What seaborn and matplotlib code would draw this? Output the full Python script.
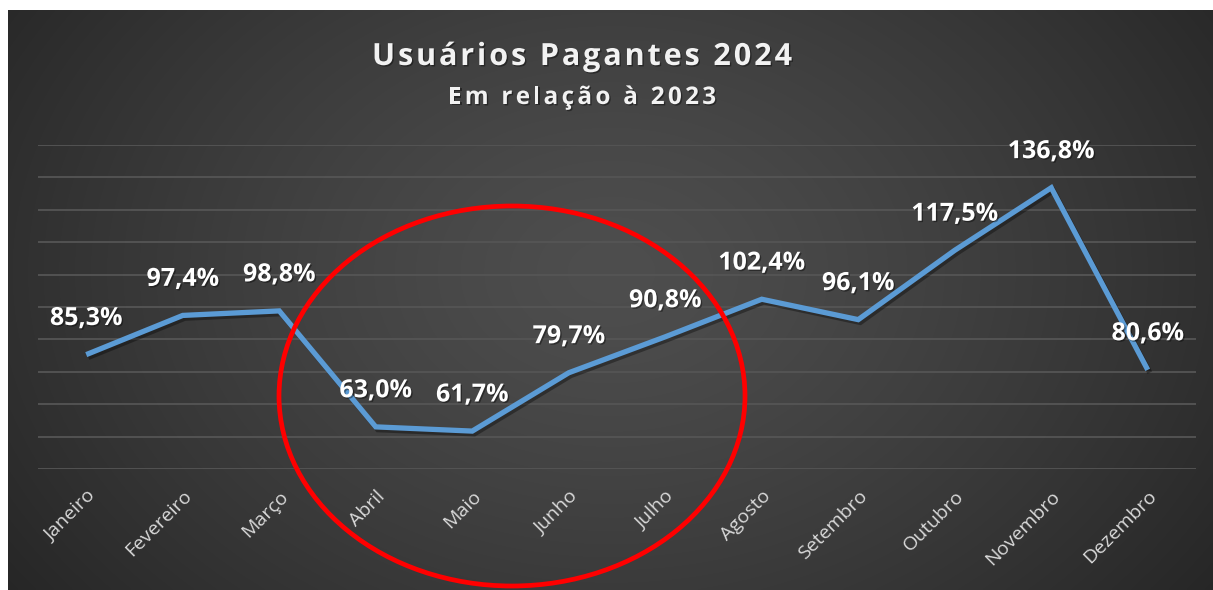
import numpy as np
import pandas as pd
import matplotlib
matplotlib.use("Agg")
import matplotlib.pyplot as plt
import matplotlib.patheffects as pe
from matplotlib.patches import Ellipse
from matplotlib.font_manager import FontProperties
import seaborn as sns

months = ["Janeiro", "Fevereiro", "Março", "Abril", "Maio", "Junho", "Julho",
          "Agosto", "Setembro", "Outubro", "Novembro", "Dezembro"]
values = [85.3, 97.4, 98.8, 63.0, 61.7, 79.7, 90.8, 102.4, 96.1, 117.5, 136.8, 80.6]
labels = ["85,3%", "97,4%", "98,8%", "63,0%", "61,7%", "79,7%", "90,8%",
          "102,4%", "96,1%", "117,5%", "136,8%", "80,6%"]
title = "Usuários Pagantes 2024"
subtitle = "Em relação à 2023"

sns.set_theme(style="white")
plt.rcParams["font.family"] = ["Open Sans", "DejaVu Sans"]

W, H = 1213, 590
fig = plt.figure(figsize=(W / 100, H / 100), dpi=100, facecolor="white")

# background panel with radial gradient
bg = fig.add_axes([8 / W, 0, 1 - 8 / W, 1 - 10 / H])
bg.set_axis_off()
ny, nx = 300, 600
yy, xx = np.mgrid[0:ny, 0:nx]
cx, cy = nx * 0.5, ny * 0.45
r = np.sqrt(((xx - cx) / (nx * 0.62)) ** 2 + ((yy - cy) / (ny * 0.95)) ** 2)
r = np.clip(r, 0, 1)
inner, outer = 0x4e / 255, 0x26 / 255
grad = inner + (outer - inner) * r ** 1.3
bg.imshow(np.dstack([grad, grad, grad]), aspect="auto", extent=[0, 1, 0, 1],
          interpolation="bicubic")
bg.set_xlim(0, 1)
bg.set_ylim(0, 1)

ax = fig.add_axes([38 / W, 1 - 469 / H, 1158 / W, 324 / H])
ax.patch.set_alpha(0)

df = pd.DataFrame({"mes": months, "valor": values})
shadow = [pe.SimpleLineShadow(offset=(1.5, -2), shadow_color="black", alpha=0.35), pe.Normal()]
sns.lineplot(data=df, x="mes", y="valor", ax=ax, color="#5b9bd5", linewidth=3.8,
             sort=False, solid_joinstyle="miter", solid_capstyle="butt",
             path_effects=shadow)

ax.set_xlim(-0.5, len(months) - 0.5)
ax.set_ylim(50, 150)
ax.set_yticks(np.arange(50, 151, 10))
ax.yaxis.grid(True, color="#555555", linewidth=1.3)
ax.xaxis.grid(False)
ax.set_yticklabels([])
ax.tick_params(axis="y", length=0)
ax.tick_params(axis="x", length=0, pad=13)
for s in ax.spines.values():
    s.set_visible(False)
ax.set_xlabel("")
ax.set_ylabel("")
ax.set_xticks(range(len(months)))
ax.set_xticklabels(months, rotation=45, ha="right", rotation_mode="anchor",
                   color="#d9d9d9", fontsize=14)

txt_shadow = [pe.withSimplePatchShadow(offset=(1, -1), shadow_rgbFace="black", alpha=0.4)]
for i, (v, lab) in enumerate(zip(values, labels)):
    ax.annotate(lab, (i, v), xytext=(0, 26), textcoords="offset points",
                ha="center", va="center", color="white", fontsize=18,
                fontweight="bold", path_effects=txt_shadow)

renderer = fig.canvas.get_renderer()


def spaced_text(s, xc_px, yc_px, size, target_w):
    fp = FontProperties(family=["Open Sans", "DejaVu Sans"], weight="bold", size=size)

    def w(t):
        return renderer.get_text_width_height_descent(t, fp, ismath=False)[0]

    sent = w("l")
    adv = [w(s[:k] + "l") - sent for k in range(len(s) + 1)]
    natural = adv[-1]
    track = max(0.0, (target_w - natural) / (len(s) - 1))
    total = natural + track * (len(s) - 1)
    x0 = xc_px - total / 2
    for k, ch in enumerate(s):
        if ch == " ":
            continue
        fig.text((x0 + adv[k] + track * k) / W, 1 - yc_px / H, ch, ha="left",
                 va="center", color="#f2f2f2", fontproperties=fp,
                 path_effects=txt_shadow)


spaced_text(title, 582, 57, 22, 420)
spaced_text(subtitle, 582, 98, 17.5, 268)

ell = Ellipse((512 / W, 1 - 396 / H), 466 / W, 380 / H, transform=fig.transFigure,
              fill=False, edgecolor="#ff0000", linewidth=3.4, zorder=10)
fig.add_artist(ell)

fig.savefig("out.png", dpi=100, facecolor="white")
